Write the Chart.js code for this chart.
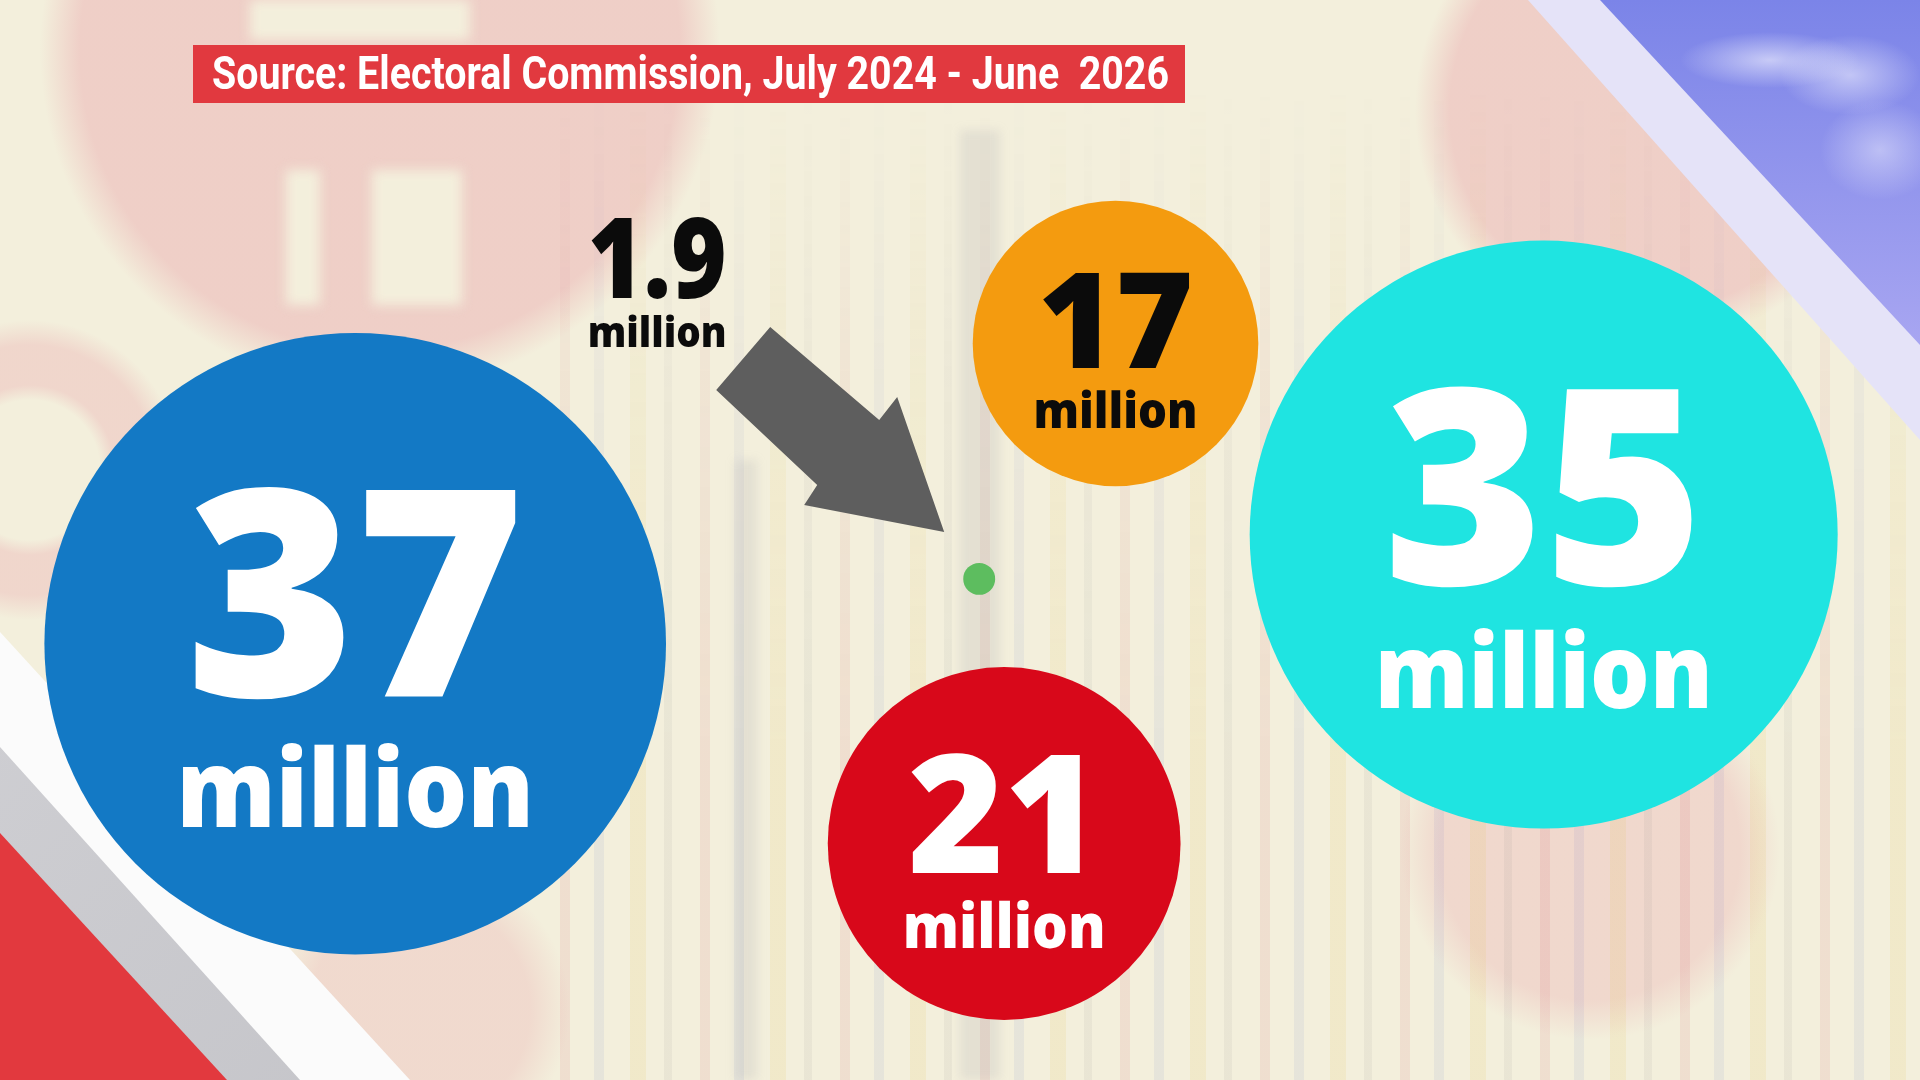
<!DOCTYPE html>
<html>
<head>
<meta charset="utf-8">
<script src="https://cdn.jsdelivr.net/npm/chart.js@4.4.1/dist/chart.umd.min.js"></script>
<style>
  html, body { margin: 0; padding: 0; }
  #stage { position: relative; width: 1920px; height: 1080px; overflow: hidden; background: #f3efdc; }
  .layer { position: absolute; left: 0; top: 0; width: 1920px; height: 1080px; }
  #blobs {
    background:
      radial-gradient(circle at 380px 50px, rgba(232,150,162,0.36) 0 300px, rgba(232,150,162,0) 340px),
      radial-gradient(circle at 1650px 110px, rgba(232,150,162,0.36) 0 200px, rgba(232,150,162,0) 235px),
      radial-gradient(circle at 30px 470px, rgba(232,150,162,0) 0 70px, rgba(232,150,162,0.28) 85px 125px, rgba(232,150,162,0) 150px),
      radial-gradient(circle at 1590px 850px, rgba(232,150,162,0.26) 0 150px, rgba(232,150,162,0) 190px),
      radial-gradient(circle at 420px 1010px, rgba(232,150,162,0.24) 0 110px, rgba(232,150,162,0) 150px);
  }
  .cream { position: absolute; background: #f3efdc; filter: blur(6px); }
  #bars {
    background:
      repeating-linear-gradient(90deg,
        rgba(200,60,80,0.09) 0 10px, rgba(0,0,0,0) 10px 34px,
        rgba(70,90,200,0.07) 34px 44px, rgba(0,0,0,0) 44px 70px,
        rgba(225,190,60,0.11) 70px 86px, rgba(0,0,0,0) 86px 104px,
        rgba(120,120,130,0.08) 104px 112px, rgba(0,0,0,0) 112px 140px);
    -webkit-mask-image: linear-gradient(to bottom, rgba(0,0,0,0) 8%, rgba(0,0,0,0.6) 35%, #000 70%);
    mask-image: linear-gradient(to bottom, rgba(0,0,0,0) 8%, rgba(0,0,0,0.6) 35%, #000 70%);
    left: 560px; width: 1360px;
  }
  .band { position: absolute; background: rgba(150,150,160,0.16); filter: blur(5px); }
  #stripeWhite { background: #fbfbfb; clip-path: polygon(0 632px, 410px 1080px, 0 1080px); }
  #stripeGrey { background: linear-gradient(135deg, #d6d6da, #b4b4b9); clip-path: polygon(0 747px, 300px 1080px, 0 1080px); }
  #stripeRed { background: #e2393e; clip-path: polygon(0 833px, 227px 1080px, 0 1080px); }
  #stripeLilac { background: #e5e3f8; clip-path: polygon(1528px 0, 1920px 440px, 1920px 0); }
  #sky {
    background:
      radial-gradient(ellipse 90px 28px at 1770px 60px, rgba(245,245,255,0.6), rgba(245,245,255,0) 100%),
      radial-gradient(ellipse 70px 40px at 1850px 75px, rgba(245,245,255,0.55), rgba(245,245,255,0) 100%),
      radial-gradient(ellipse 60px 50px at 1880px 150px, rgba(245,245,255,0.45), rgba(245,245,255,0) 100%),
      linear-gradient(180deg, #7b84e8 0px, #a7a5f1 340px);
    clip-path: polygon(1600px 0, 1920px 0, 1920px 345px);
  }
  #chart { position: absolute; left: 0; top: 0; }
</style>
</head>
<body>
<div id="stage">
  <div class="layer" id="blobs"></div>
  <div class="cream" style="left:286px; top:170px; width:34px; height:135px;"></div>
  <div class="cream" style="left:372px; top:170px; width:90px; height:135px;"></div>
  <div class="cream" style="left:250px; top:0px; width:220px; height:40px;"></div>
  <div class="layer" id="bars"></div>
  <div class="band" style="left:960px; top:130px; width:40px; height:950px;"></div>
  <div class="band" style="left:735px; top:460px; width:22px; height:620px;"></div>
  <div class="layer" id="stripeWhite"></div>
  <div class="layer" id="stripeGrey"></div>
  <div class="layer" id="stripeRed"></div>
  <div class="layer" id="stripeLilac"></div>
  <div class="layer" id="sky"></div>
  <canvas id="chart" width="1920" height="1080"></canvas>
</div>
<script>
// Valeurs (en millions)
const valueLabels = ["37", "35", "21", "17", "1.9"];
const valuesMillions = [37, 35, 21, 17, 1.9];
const unitLabel = "million";
const sourceText = "Source: Electoral Commission, July 2024 - June  2026";

// Mise en page des bulles sur une grille 0-100 (pas des données)
const layoutX = [18.5, 80.4, 52.3, 58.1, 51.0];
const layoutY = [59.6, 49.5, 78.1, 31.8, 53.6];

// Styles
const bubbleColours = ["#1379c5", "#1fe4e1", "#d8081a", "#f49b0f", "#5dbd5f"];
const textColours = ["#ffffff", "#ffffff", "#ffffff", "#0b0b0b", "#0b0b0b"];
const pxPerMillion = 8.4;
const FONT = "'Open Sans', 'DejaVu Sans', sans-serif";
const W = 1920, H = 1080;

const points = valuesMillions.map((v, i) => ({ x: layoutX[i], y: layoutY[i], r: v * pxPerMillion, v: v }));

// Chart.js réserve le plus grand rayon comme marge : on élargit la plage pour compenser
const overflow = Math.max(...points.map(p => p.r));
const xMin = 100 * overflow / W, xMax = 100 - 100 * overflow / W;
const yMin = 100 * overflow / H, yMax = 100 - 100 * overflow / H;

// Texte ajusté : hauteur de capitale visée, largeur optionnelle
function drawFitted(ctx, text, cx, baseline, ascent, width, weight, colour) {
  ctx.font = `${weight} 100px ${FONT}`;
  const m = ctx.measureText(text);
  const size = 100 * ascent / m.actualBoundingBoxAscent;
  ctx.font = `${weight} ${size}px ${FONT}`;
  const w = ctx.measureText(text).width;
  const sx = width ? width / w : 1;
  ctx.save();
  ctx.translate(cx, baseline);
  ctx.scale(sx, 1);
  ctx.fillStyle = colour;
  ctx.textAlign = "center";
  ctx.textBaseline = "alphabetic";
  ctx.fillText(text, 0, 0);
  ctx.restore();
}

const labelsPlugin = {
  id: "bubbleLabels",
  afterDatasetsDraw(chart) {
    const ctx = chart.ctx;
    const meta = chart.getDatasetMeta(0);
    meta.data.forEach((el, i) => {
      const r = points[i].r;
      const x = el.x, y = el.y;
      if (valuesMillions[i] >= 10) {
        drawFitted(ctx, valueLabels[i], x, y + 0.17 * r, 0.67 * r, null, 800, textColours[i]);
        drawFitted(ctx, unitLabel, x, y + 0.59 * r, 0.27 * r, 1.15 * r, 800, textColours[i]);
      } else {
        // Flèche grise vers la petite bulle
        const arrow = [[-209, -252], [-263, -189], [-162, -94], [-175, -74], [-35, -47], [-82, -182], [-100, -159]];
        ctx.save();
        ctx.fillStyle = "#5e5e5e";
        ctx.beginPath();
        arrow.forEach(([dx, dy], k) => k ? ctx.lineTo(x + dx, y + dy) : ctx.moveTo(x + dx, y + dy));
        ctx.closePath();
        ctx.fill();
        ctx.restore();
        drawFitted(ctx, valueLabels[i], x - 322, y - 281, 80, 139, 800, textColours[i]);
        drawFitted(ctx, unitLabel, x - 322, y - 232, 32, 139, 800, textColours[i]);
      }
    });
  },
  afterDraw(chart) {
    // Encadré source
    const ctx = chart.ctx;
    ctx.save();
    ctx.fillStyle = "#e1393f";
    ctx.fillRect(193, 45, 992, 58);
    ctx.restore();
    ctx.save();
    ctx.font = `700 100px Roboto, 'Open Sans', sans-serif`;
    const m = ctx.measureText("S");
    const size = 100 * 34 / m.actualBoundingBoxAscent;
    ctx.font = `700 ${size}px Roboto, 'Open Sans', sans-serif`;
    const w = ctx.measureText(sourceText).width;
    ctx.translate(212, 89);
    ctx.scale(957 / w, 1);
    ctx.fillStyle = "#ffffff";
    ctx.textAlign = "left";
    ctx.textBaseline = "alphabetic";
    ctx.fillText(sourceText, 0, 0);
    ctx.restore();
  }
};

const chart = new Chart(document.getElementById("chart").getContext("2d"), {
  type: "bubble",
  data: {
    datasets: [{
      data: points,
      backgroundColor: bubbleColours,
      borderWidth: 0,
      hoverBorderWidth: 0,
      hoverRadius: 0,
      clip: false
    }]
  },
  options: {
    responsive: false,
    animation: false,
    events: [],
    devicePixelRatio: 1,
    layout: { padding: 0 },
    plugins: {
      legend: { display: false },
      tooltip: { enabled: false },
      title: { display: false }
    },
    scales: {
      x: { type: "linear", min: xMin, max: xMax, display: false },
      y: { type: "linear", min: yMin, max: yMax, reverse: true, display: false }
    }
  },
  plugins: [labelsPlugin]
});
</script>
</body>
</html>
